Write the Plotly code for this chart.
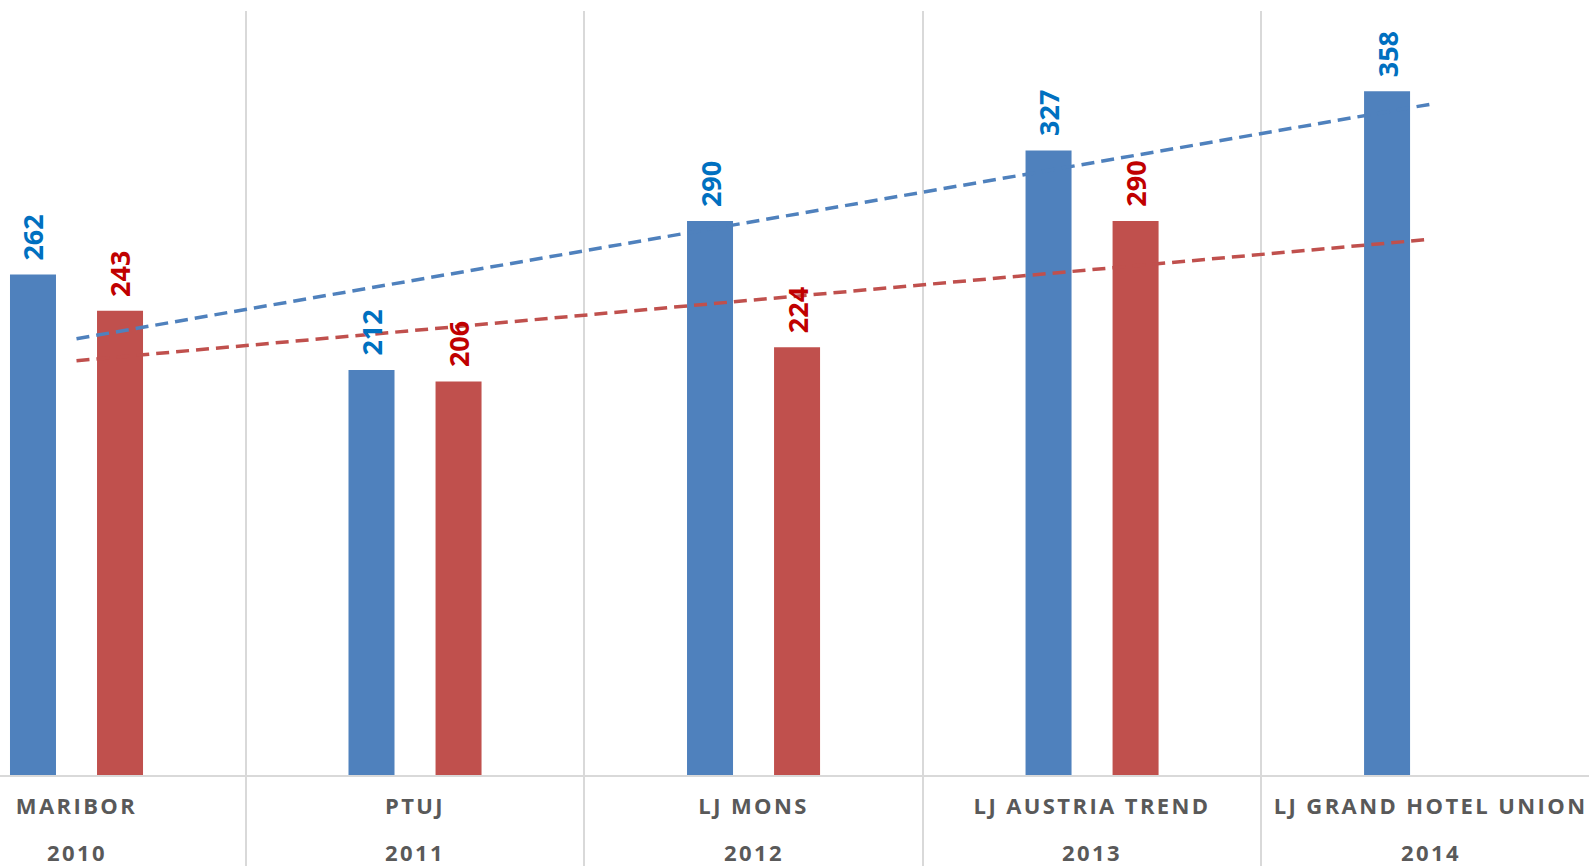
import numpy as np
import plotly.graph_objects as go

# ---- data ----
venues = ["MARIBOR", "PTUJ", "LJ MONS", "LJ AUSTRIA TREND", "LJ GRAND HOTEL UNION"]
years = ["2010", "2011", "2012", "2013", "2014"]
series_blue = [262, 212, 290, 327, 358]
series_red = [243, 206, 224, 290, None]

# ---- styling ----
BLUE_BAR = "#4F81BD"
RED_BAR = "#C0504D"
BLUE_TXT = "#0070C0"
RED_TXT = "#C00000"
GRID = "#D9D9D9"
LABEL = "#595959"
FONT = "Open Sans"


def spaced(t):
    return "<span style='letter-spacing:2.4px'>" + t + "</span>"


pos = list(range(len(venues)))
bar_w = 0.1359
off_blue = -0.1965
off_red = 0.0606

fig = go.Figure()
fig.add_trace(go.Bar(x=pos, y=series_blue, width=bar_w, offset=off_blue,
                     marker=dict(color=BLUE_BAR, line=dict(width=0)),
                     name="Series 1", showlegend=False, hoverinfo="y"))
fig.add_trace(go.Bar(x=pos, y=series_red, width=bar_w, offset=off_red,
                     marker=dict(color=RED_BAR, line=dict(width=0)),
                     name="Series 2", showlegend=False, hoverinfo="y"))


def trend(vals):
    xs = [p for p, v in zip(pos, vals) if v is not None]
    ys = [v for v in vals if v is not None]
    k, b = np.polyfit(xs, ys, 1)
    return [k * p + b for p in pos]


fig.add_trace(go.Scatter(x=pos, y=trend(series_blue), mode="lines",
                         line=dict(color=BLUE_BAR, width=3.5, dash="13px,7px"),
                         showlegend=False, hoverinfo="skip"))
fig.add_trace(go.Scatter(x=pos, y=trend(series_red), mode="lines",
                         line=dict(color=RED_BAR, width=3.5, dash="13px,7px"),
                         showlegend=False, hoverinfo="skip"))

annotations = []
for vals, off, col in [(series_blue, off_blue, BLUE_TXT), (series_red, off_red, RED_TXT)]:
    for p, v in zip(pos, vals):
        if v is None:
            continue
        annotations.append(dict(x=p + off + bar_w / 2, y=v, xref="x", yref="y",
                                text=str(v), textangle=-90, showarrow=False,
                                xanchor="center", yanchor="bottom", yshift=12,
                                font=dict(family=FONT, size=27, color=col, weight="bold")))
for p, yr in zip(pos, years):
    annotations.append(dict(x=p, y=-0.1008, xref="x", yref="paper", text=spaced(yr),
                            showarrow=False, xanchor="center", yanchor="middle",
                            font=dict(family=FONT, size=22, color=LABEL, weight="bold")))

boundaries = [p + 0.5 for p in pos[:-1]]

fig.update_layout(
    width=1589, height=866,
    margin=dict(l=0, r=0, t=11, b=91),
    paper_bgcolor="white", plot_bgcolor="white",
    barmode="overlay",
    annotations=annotations,
    xaxis=dict(range=[-0.226, 4.468], tickmode="array", tickvals=pos,
               ticktext=[spaced(v) for v in venues],
               ticks="", showgrid=False, zeroline=False,
               showline=True, linecolor=GRID, linewidth=2,
               ticklabelstandoff=11,
               tickfont=dict(family=FONT, size=22, color=LABEL, weight="bold"),
               minor=dict(tickmode="array", tickvals=boundaries, showgrid=True,
                          gridcolor=GRID, gridwidth=2, ticks="outside", ticklen=91,
                          tickcolor=GRID, tickwidth=2)),
    yaxis=dict(range=[0, 400], visible=False, showgrid=False, zeroline=False),
)

fig.write_html("out.html", config={"displayModeBar": False},
               post_script="document.body.style.margin='0';document.body.style.overflow='hidden';")
